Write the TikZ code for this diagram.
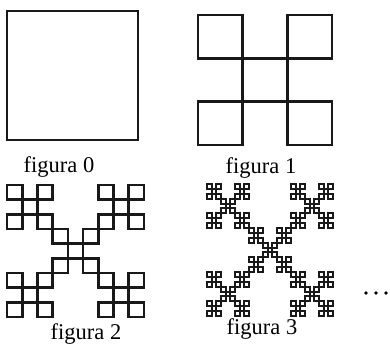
\documentclass[tikz,border=0pt]{standalone}
\usepackage{fontspec}
\setmainfont{Liberation Serif}
\begin{document}
\begin{tikzpicture}[x=1pt,y=1pt,
  sq/.style={draw=black!90,line width=2.6pt},
  sqfine/.style={draw=black!90,line width=1.9pt},
  lbl/.style={font=\fontsize{22.5}{24}\selectfont,anchor=base,inner sep=0pt}]
\useasboundingbox (0,0) rectangle (390,344);
% figura 0
\draw[sq] (7,204) rectangle (138,333);
% figura 1
\foreach \a/\b in {0/0,2/0,1/1,0/2,2/2}{
  \draw[sq] ({198+\a*134/3},{199+\b*130/3}) rectangle ++({134/3},{130/3});
}
% figura 2
\foreach \a/\b in {0/0,2/0,1/1,0/2,2/2}{
  \foreach \c/\d in {0/0,2/0,1/1,0/2,2/2}{
    \draw[sq] ({7+\a*137/3+\c*137/9},{27+\b*132/3+\d*132/9}) rectangle ++({137/9},{132/9});
  }
}
% figura 3
\foreach \a/\b in {0/0,2/0,1/1,0/2,2/2}{
  \foreach \c/\d in {0/0,2/0,1/1,0/2,2/2}{
    \foreach \e/\f in {0/0,2/0,1/1,0/2,2/2}{
      \draw[sqfine] ({207+\a*126/3+\c*126/9+\e*126/27},{28+\b*132/3+\d*132/9+\f*132/27}) rectangle ++({126/27},{132/27});
    }
  }
}
\node[lbl] (l0) at (59,171) {figura 0};
\node[lbl] (l1) at (261,170) {figura 1};
\node[lbl] (l2) at (86,4) {figura 2};
\node[lbl] (l3) at (262,9) {figura 3};
\foreach \x in {366,376,386}{\fill (\x,51) circle (1.8);}
\end{tikzpicture}
\end{document}
